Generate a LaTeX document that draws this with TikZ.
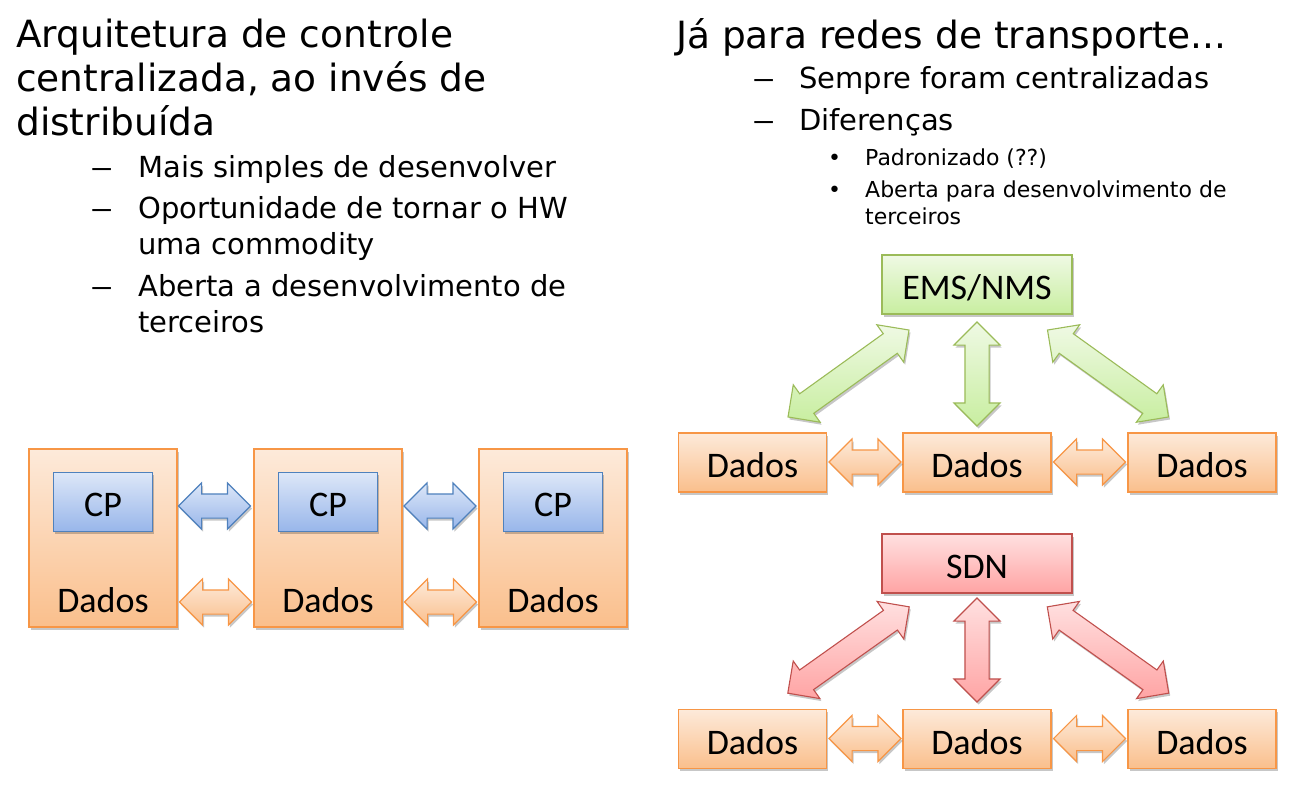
\documentclass[tikz,border=0pt]{standalone}
\usepackage{fontspec}
\setmainfont{DejaVu Sans}
\newfontfamily\boxfont{Carlito}
\usetikzlibrary{shapes.arrows,shadows}

\definecolor{dadosline}{HTML}{F79646}
\definecolor{dadostop}{HTML}{FDEADA}
\definecolor{dadosbot}{HTML}{FABF8C}
\definecolor{cpline}{HTML}{4F81BD}
\definecolor{cptop}{HTML}{DDE7F8}
\definecolor{cpbot}{HTML}{98B6EA}
\definecolor{emsline}{HTML}{9BBB59}
\definecolor{emstop}{HTML}{EFF9E4}
\definecolor{emsbot}{HTML}{C8EEA0}
\definecolor{sdnline}{HTML}{C0504D}
\definecolor{sdntop}{HTML}{FFE0E0}
\definecolor{sdnbot}{HTML}{FFA4A4}

\newcommand{\traco}{\scalebox{1.6}[1]{–}}

\tikzset{
  titletxt/.style={anchor=base west, inner sep=0pt, font=\fontsize{37.5}{44}\selectfont},
  itemtxt/.style={anchor=base west, inner sep=0pt, font=\fontsize{29}{38}\selectfont},
  subtxt/.style={anchor=base west, inner sep=0pt, font=\fontsize{22}{27}\selectfont},
  boxtxt/.style={inner sep=0pt, font=\boxfont\fontsize{36}{36}\selectfont},
  softshadow/.style={drop shadow={shadow xshift=1.5pt, shadow yshift=-2.5pt, opacity=0.22, fill=black}},
  colbox/.style={draw=#1line, top color=#1top, bottom color=#1bot, line width=1.1pt, softshadow},
  dados/.style={colbox=dados, minimum width=148, minimum height=59, boxtxt, text height=30pt, text depth=0pt},
  bigdados/.style={colbox=dados, minimum width=148, minimum height=178, inner sep=0pt},
  cpbox/.style={colbox=cp, minimum width=99, minimum height=59, boxtxt, text height=30pt, text depth=0pt},
  ctrlbox/.style={colbox=#1, minimum width=190, minimum height=59, boxtxt, text height=30pt, text depth=0pt},
  blockarrow/.style={shape=double arrow, colbox=#1, inner xsep=0pt, inner ysep=11.5pt,
    minimum width=45, double arrow head extend=11pt, double arrow tip angle=90}
}

\begin{document}
\begin{tikzpicture}[x=1pt,y=-1pt]
\useasboundingbox (0,0) rectangle (1300,809);

% texto da esquerda
\node[titletxt] (t1) at (16,47) {Arquitetura de controle};
\node[titletxt] (t2) at (16,91) {centralizada, ao invés de};
\node[titletxt] (t3) at (16,135) {distribuída};
\node[itemtxt] at (90,177) {\traco};
\node[itemtxt] (i1) at (138,177) {Mais simples de desenvolver};
\node[itemtxt] at (90,218) {\traco};
\node[itemtxt] (i2) at (138,218) {Oportunidade de tornar o HW};
\node[itemtxt] (i2b) at (138,254) {uma commodity};
\node[itemtxt] at (90,296) {\traco};
\node[itemtxt] (i3) at (138,296) {Aberta a desenvolvimento de};
\node[itemtxt] (i3b) at (138,332) {terceiros};

% texto da direita
\node[titletxt] (r1) at (676,48) {Já para redes de transporte...};
\node[itemtxt] at (752,88) {\traco};
\node[itemtxt] (ri1) at (799,88) {Sempre foram centralizadas};
\node[itemtxt] at (752,130) {\traco};
\node[itemtxt] (ri2) at (799,130) {Diferenças};
\node[subtxt] at (828,165) {•};
\node[subtxt] (rs1) at (865,165) {Padronizado (??)};
\node[subtxt] at (828,197) {•};
\node[subtxt] (rs2) at (865,197) {Aberta para desenvolvimento de};
\node[subtxt] (rs2b) at (865,224) {terceiros};

% arquitetura distribuida
\node[bigdados] (n1) at (103,538) {};
\node[bigdados] (n2) at (328,538) {};
\node[bigdados] (n3) at (553,538) {};
\foreach \n in {n1,n2,n3}{
  \node[cpbox] (\n cp) at ([yshift=-53.5pt]\n.north) {CP};
  \node[boxtxt, anchor=base] (\n txt) at ([yshift=15pt]\n.south) {Dados};
}
\node[blockarrow=cp, minimum height=72] (a12cp) at (214.5,506) {};
\node[blockarrow=cp, minimum height=72] (a23cp) at (440,506) {};
\node[blockarrow=dados, minimum height=72] (a12d) at (215.5,602) {};
\node[blockarrow=dados, minimum height=72] (a23d) at (440.5,602) {};

% EMS/NMS
\node[ctrlbox=ems] (ems) at (977,284.5) {EMS/NMS};
\node[dados] (e1) at (752.5,462.5) {Dados};
\node[dados] (e2) at (977,462.5) {Dados};
\node[dados] (e3) at (1202,462.5) {Dados};
\node[blockarrow=dados, minimum height=72] (e12) at (865,462) {};
\node[blockarrow=dados, minimum height=72] (e23) at (1089.5,462) {};
\node[blockarrow=ems, minimum height=104, rotate=90] (ev2) at (977,374) {};
\node[blockarrow=ems, minimum height=149, rotate=35.7] (ev1) at (848.5,373.5) {};
\node[blockarrow=ems, minimum height=149, rotate=-35.7] (ev3) at (1108,373.5) {};

% SDN
\node[ctrlbox=sdn] (sdn) at (977,563.5) {SDN};
\node[dados] (s1) at (752.5,739) {Dados};
\node[dados] (s2) at (977,739) {Dados};
\node[dados] (s3) at (1202,739) {Dados};
\node[blockarrow=dados, minimum height=72] (s12) at (865,738.5) {};
\node[blockarrow=dados, minimum height=72] (s23) at (1089.5,738.5) {};
\node[blockarrow=sdn, minimum height=104, rotate=90] (sv2) at (977,650) {};
\node[blockarrow=sdn, minimum height=149, rotate=35.4] (sv1) at (848.5,650) {};
\node[blockarrow=sdn, minimum height=149, rotate=-35.4] (sv3) at (1108,650) {};
\end{tikzpicture}
\end{document}
